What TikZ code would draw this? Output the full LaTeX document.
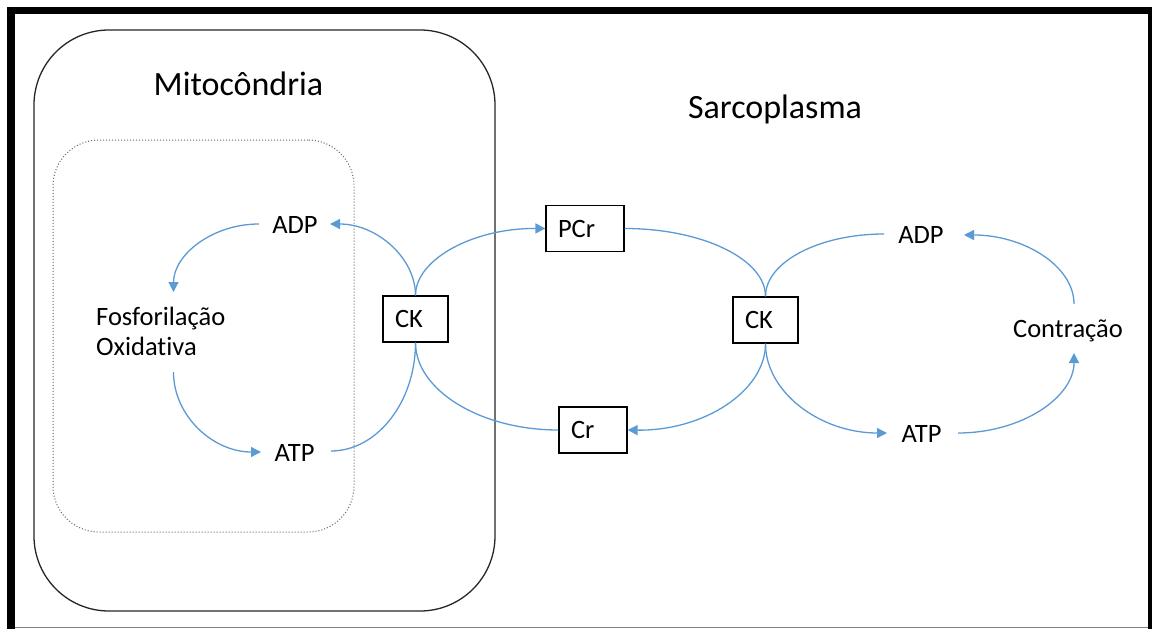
\documentclass[tikz,border=0pt]{standalone}
\usepackage{fontspec}
\setmainfont{Carlito}[Ligatures={NoCommon}]
\usetikzlibrary{arrows.meta}
\definecolor{flow}{HTML}{5B9BD5}
\newcommand\lblfont{\fontsize{26.5}{30}\selectfont}
\newcommand\ttlfont{\fontsize{34}{40}\selectfont}
\tikzset{
  lbl/.style={font=\lblfont, inner sep=0pt, anchor=base},
  ttl/.style={font=\ttlfont, inner sep=0pt, anchor=base},
  box/.style={draw=black, line width=1.2pt, font=\lblfont, minimum height=46pt,
              inner xsep=12pt, inner ysep=0pt, align=left},
  flowline/.style={draw=flow, line width=1.3pt},
  flowarrow/.style={flowline, -{Triangle[length=10pt,width=10pt]}},
}
\begin{document}
\begin{tikzpicture}[x=1pt,y=-1pt]
\useasboundingbox (0,0) rectangle (1152,629);
\fill[white] (0,0) rectangle (1152,629);
% frame
\fill[black] (7,7) rectangle (1152,14);
\fill[black] (7,7) rectangle (15,629);
\fill[black] (1148,7) rectangle (1152,629);
\draw[gray, line width=1.2pt] (15,627.8) -- (1148,627.8);
% compartments
\node[draw=black!85, line width=1.3pt, rounded corners=75pt, minimum width=461pt, minimum height=581pt, inner sep=0pt] (mito) at (264.5,320.5) {};
\node[draw=black!60, dotted, line width=1pt, rounded corners=46pt, minimum width=301pt, minimum height=392pt, inner sep=0pt] (inner) at (203.5,336) {};
% titles
\node[ttl] (tmito) at (238.5,95) {Mitocôndria};
\node[ttl] (tsarc) at (775,118) {Sarcoplasma};
% labels
\node[lbl] (adpL) at (295,233) {ADP};
\node[lbl] (atpL) at (294.5,461) {ATP};
\node[lbl, anchor=base west, align=left] (fos) at (96,355) {Fosforilação\\Oxidativa};
\node[lbl] (adpR) at (921,243) {ADP};
\node[lbl] (atpR) at (921.5,442) {ATP};
\node[lbl] (contr) at (1068,337) {Contração};
% boxes
\node[box, minimum width=65pt, text width=41pt] (ckL) at (415.5,319) {CK};
\node[box, minimum width=78pt, text width=54pt] (pcr) at (585,228.5) {PCr};
\node[box, minimum width=68pt, text width=44pt] (cr) at (593,430) {Cr};
\node[box, minimum width=65pt, text width=41pt] (ckR) at (765.5,320) {CK};
% connector end points
\coordinate (adpLw) at (259,224);
\coordinate (adpLe) at (330,224);
\coordinate (fosN) at (173.5,292);
\coordinate (fosS) at (173.5,372);
\coordinate (atpLw) at (261,452);
\coordinate (atpLe) at (331,451);
\coordinate (adpRw) at (884,234);
\coordinate (adpRe) at (964,235);
\coordinate (atpRw) at (887,433);
\coordinate (atpRe) at (958,433);
\coordinate (contrN) at (1074,304);
\coordinate (contrS) at (1074,353);
% connectors
\draw[flowarrow] (adpLw) .. controls (212,224) and (173.5,255) .. (fosN);
\draw[flowarrow] (fosS) .. controls (173.5,416) and (213,452) .. (atpLw);
\draw[flowarrow] (ckL.north) .. controls (415.5,258) and (377,224) .. (adpLe);
\draw[flowarrow] (ckL.north) .. controls (415.5,259) and (474,228) .. (pcr.west);
\draw[flowline] (atpLe) .. controls (377,451) and (415.5,402) .. (ckL.south);
\draw[flowline] (ckL.south) .. controls (415.5,390) and (480,430) .. (cr.west);
\draw[flowline] (pcr.east) .. controls (702,228.5) and (765.5,259) .. (ckR.north);
\draw[flowline] (adpRw) .. controls (819,234) and (765.5,262) .. (ckR.north);
\draw[flowarrow] (contrN) .. controls (1074,266) and (1024,235) .. (adpRe);
\draw[flowarrow] (ckR.south) .. controls (765.5,391) and (704,431) .. (cr.east);
\draw[flowarrow] (ckR.south) .. controls (765.5,392) and (820,433) .. (atpRw);
\draw[flowarrow] (atpRe) .. controls (1022,433) and (1074,397) .. (contrS);
\end{tikzpicture}
\end{document}
